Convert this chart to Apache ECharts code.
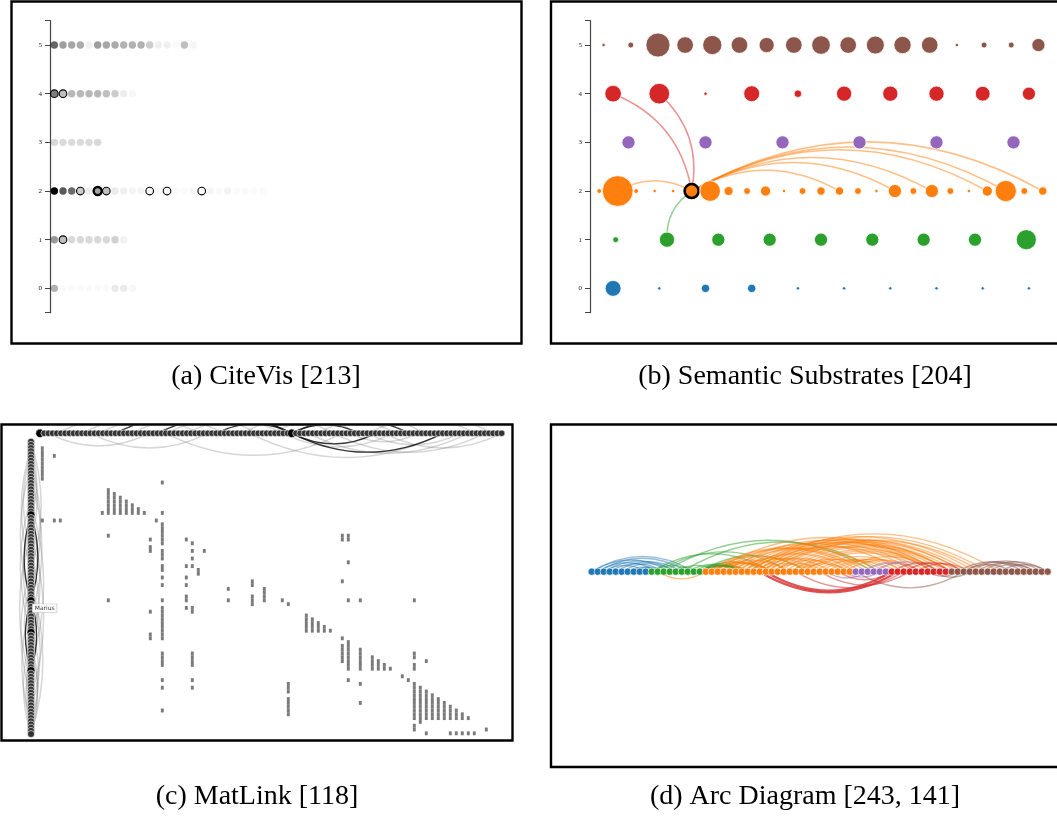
<!DOCTYPE html>
<html>
<head>
<meta charset="utf-8">
<script src="https://cdn.jsdelivr.net/npm/echarts@6/dist/echarts.min.js"></script>
<style>html,body{margin:0;padding:0;background:#fff}#c{width:1057px;height:820px}</style>
</head>
<body>
<div id="c"></div>
<script>
// ================= DATA =================
const yTicks = [0, 1, 2, 3, 4, 5];
const palette = ['#1f77b4', '#2ca02c', '#ff7f0e', '#9467bd', '#d62728', '#8c564b'];

// (a) CiteVis – citation intensity per paper, one array per row
const citeRow0 = [0.3, 0.02, 0.02, 0.02, 0.02, 0.02, 0.02, 0.08, 0.08, 0.03];
const citeRow1 = [0.4, 0.25, 0.15, 0.15, 0.15, 0.15, 0.15, 0.18, 0.05];
const citeRow2 = [1.0, 0.65, 0.58, 0.2, 0.07, 0.35, 0.25, 0.08, 0.06, 0.04, 0.04, 0.03, 0.03, 0.03, 0.02, 0.02, 0.03, 0.02, 0.04, 0.02, 0.05, 0.02, 0.02, 0.02, 0.02];
const citeRow3 = [0.15, 0.14, 0.14, 0.14, 0.14, 0.15];
const citeRow4 = [0.5, 0.25, 0.28, 0.28, 0.28, 0.28, 0.25, 0.2, 0.07, 0.03];
const citeRow5 = [0.6, 0.38, 0.35, 0.33, 0.05, 0.38, 0.35, 0.33, 0.3, 0.3, 0.3, 0.2, 0.06, 0.06, 0.02, 0.25, 0.04];
const citeRings = [[4, 0], [4, 1], [2, 3], [2, 6], [2, 11], [2, 13], [2, 17], [1, 1]];
const citeBoldRings = [[2, 5]];

// (b) Semantic Substrates – node weights per row
const subRow0 = [22, 1, 6, 6, 1, 1, 1, 1, 1, 1];
const subRow1 = [3, 20, 15, 15, 15, 15, 15, 15, 35];
const subRow2 = [2, 82, 2, 1, 1, 17, 37, 7, 4, 9, 1, 4, 6, 6, 4, 1, 15, 4, 15, 4, 1, 9, 39, 4, 6];
const subRow3 = [15, 15, 15, 15, 15, 15];
const subRow4 = [24, 37, 1, 22, 5, 20, 20, 20, 19, 15];
const subRow5 = [1, 3, 50, 24, 32, 24, 20, 24, 30, 24, 28, 26, 24, 1, 3, 3, 15];
const subFocus = [2, 5];
const subLinks = [[4, 0, 2, 5], [4, 1, 2, 5], [1, 1, 2, 5], [2, 1, 2, 5], [2, 5, 2, 13], [2, 5, 2, 16], [2, 5, 2, 18], [2, 5, 2, 21], [2, 5, 2, 22], [2, 5, 2, 24]];

// (c) MatLink – matrix cells as [column, firstRow, lastRow]
const matSize = 77;
const matCells = [
  [0,1,9],[2,3,3],[20,10,10],
  [10,18,18],[11,12,18],[12,13,18],[13,14,18],[14,15,18],[15,16,18],[16,17,18],[17,18,18],[20,18,18],
  [0,20,20],[2,20,20],[3,20,20],[19,20,20],
  [20,21,26],[11,24,24],[18,25,25],[18,27,28],[20,28,30],[20,32,33],[20,35,35],[20,37,37],
  [24,25,25],[25,26,26],[25,28,28],[27,28,28],[25,30,30],[24,32,32],[25,32,32],[26,33,34],[24,35,35],[24,37,37],
  [31,38,38],[35,36,37],
  [31,41,41],[35,40,42],[11,41,41],[20,41,41],[24,40,41],[24,43,43],[25,43,44],[18,44,44],[20,43,51],[18,50,51],
  [20,55,58],[25,55,58],[20,62,62],[25,62,62],[20,64,64],[25,64,64],[20,70,70],
  [50,24,25],[51,24,25],[51,31,31],[50,36,36],[37,38,41],
  [40,41,41],[41,42,42],[51,41,41],[53,41,41],[62,41,41],
  [44,45,49],[45,46,49],[46,47,49],[47,48,49],[48,49,49],
  [50,51,51],[50,53,57],[51,52,59],[53,54,59],[55,56,59],[56,57,59],[57,58,59],[58,59,59],
  [62,55,56],[62,58,59],[64,57,57],[60,61,61],[61,62,62],[51,62,62],[53,63,63],[53,68,68],
  [41,63,65],[41,67,71],
  [62,63,72],[63,64,72],[64,65,72],[65,66,72],[66,67,72],[67,68,72],[68,69,72],[69,70,72],[70,71,72],[71,72,72],
  [63,73,73],[62,74,75],[64,76,76],[68,76,76],[69,76,76],[70,76,76],[71,76,76],[72,76,76],[74,75,75]
];
const matTopCount = 111;
const matLeftCount = 93;
const matTopFocus = [0, 60];
const matLeftFocus = [23, 50, 60, 72];
const matLeftLabelNode = 50;
const matLabel = 'Marius';
// arcs: [from, to, strong(1)/faint(0)]
const matTopArcs = [
  [4,38,0],[10,52,0],[22,70,0],[48,92,0],[66,108,0],[78,104,0],[35,76,0],[55,85,0],[14,44,0],[30,58,0],
  [26,2,0],[40,12,0],[72,30,0],[102,64,0],[110,82,0],[96,50,0],[90,74,0],[84,58,0],[106,70,0],[100,78,0],
  [18,60,1],[28,60,1],[42,60,1],[60,88,1],[60,76,1],[80,60,1],[96,60,1]
];
const matLeftArcs = [
  [0,40,0],[5,30,0],[12,55,0],[30,80,0],[45,92,0],[58,88,0],[64,90,0],[20,70,0],[36,66,0],[2,24,0],[8,46,0],[26,62,0],[48,84,0],[66,92,0],
  [40,2,0],[60,18,0],[75,30,0],[88,52,0],[92,62,0],[70,44,0],[84,66,0],[50,8,0],[34,4,0],[56,26,0],[80,40,0],[90,70,0],
  [23,50,1],[50,60,1],[50,72,1],[72,50,1],[50,23,1]
];

// (d) Arc Diagram – group sizes (blue, green, orange, purple, red, brown) and links
const arcGroupSizes = [10, 9, 25, 6, 10, 17];
const arcLinks = [
  [0,17],[1,16],[0,13],[2,14],[3,12],[1,11],[4,15],[5,14],[2,9],[6,11],[7,12],
  [11,33],[10,30],[12,47],[15,48],[18,29],[17,26],[16,24],[14,21],[13,18],[10,17],[18,36],
  [19,11],
  [26,68],[25,64],[27,66],[28,63],[24,60],[30,65],[29,62],[31,61],[20,58],[22,57],[23,55],[21,52],[26,54],
  [32,60],[33,58],[34,57],[35,56],[36,53],[19,45],[20,46],[22,48],[24,44],[25,40],[19,36],[20,33],[21,30],
  [23,38],[27,42],[28,37],[30,43],[33,47],[35,49],[37,50],[38,52],[39,51],[40,54],[41,58],[42,55],[30,39],[34,43],
  [26,62],[27,60],[25,58],[28,59],[29,57],
  [48,42],[46,39],[45,55],[47,58],
  [52,34],[53,38],[50,41],
  [50,60],[52,62],[54,63],
  [62,73],[63,75],[64,74],[61,72],[65,76],[66,74],[62,70],[68,76],
  [62,44],[61,56],[63,57]
];
const arcStrongLinks = [[51,28],[50,29],[19,26],[20,30],[18,25]];

const captions = ['(a) CiteVis [213]', '(b) Semantic Substrates [204]', '(c) MatLink [118]', '(d) Arc Diagram [243, 141]'];

// ================= BUILD =================
const citeRows = [citeRow0, citeRow1, citeRow2, citeRow3, citeRow4, citeRow5];
const subRows = [subRow0, subRow1, subRow2, subRow3, subRow4, subRow5];
const series = [];

// (a)
const citeData = [];
citeRows.forEach((row, r) => row.forEach((v, i) => citeData.push([i, r, v])));
series.push({type: 'scatter', xAxisIndex: 0, yAxisIndex: 0, data: citeData, symbolSize: 7.4, clip: false, silent: true,
  itemStyle: {opacity: 1, color: p => 'rgba(0,0,0,' + p.value[2] + ')'}});
series.push({type: 'scatter', xAxisIndex: 0, yAxisIndex: 0, data: citeRings.map(([r, i]) => [i, r]), symbolSize: 7.6, clip: false, silent: true,
  itemStyle: {opacity: 1, color: 'rgba(0,0,0,0)', borderColor: '#000', borderWidth: 1.1}});
series.push({type: 'scatter', xAxisIndex: 0, yAxisIndex: 0, data: citeBoldRings.map(([r, i]) => [i, r]), symbolSize: 8, clip: false, silent: true,
  itemStyle: {opacity: 1, color: 'rgba(0,0,0,0)', borderColor: '#000', borderWidth: 2.4}});

// (b)
const subPos = (r, i) => [(i + 0.5) / subRows[r].length, r];
subRows.forEach((row, r) => {
  series.push({type: 'scatter', xAxisIndex: 1, yAxisIndex: 1, z: 3, clip: false, silent: true,
    data: row.map((w, i) => {
      const item = {value: subPos(r, i).concat([w])};
      if (r === subFocus[0] && i === subFocus[1]) item.itemStyle = {borderColor: '#000', borderWidth: 2.6};
      return item;
    }),
    symbolSize: v => 3.4 * Math.sqrt(v[2]),
    itemStyle: {opacity: 1, color: palette[r], borderColor: '#fff', borderWidth: 0.8}});
});
series.push({type: 'lines', coordinateSystem: 'cartesian2d', xAxisIndex: 1, yAxisIndex: 1, z: 2, silent: true, clip: false,
  data: subLinks.map(([r1, i1, r2, i2]) => ({coords: [subPos(r1, i1), subPos(r2, i2)], lineStyle: {color: palette[r1]}})),
  lineStyle: {width: 1.5, opacity: 0.5, curveness: 0.28}});

// (c)
const cellData = [];
matCells.forEach(([c, r0, r1]) => { for (let r = r0; r <= r1; r++) cellData.push([c, r]); });
series.push({type: 'scatter', xAxisIndex: 2, yAxisIndex: 2, data: cellData, symbol: 'rect', symbolSize: [2.9, 3.9], clip: false, silent: true,
  itemStyle: {opacity: 1, color: '#7a7a7a'}});
series.push({type: 'lines', coordinateSystem: 'cartesian2d', xAxisIndex: 3, yAxisIndex: 3, z: 1, silent: true, clip: true,
  data: matTopArcs.map(([a, b, s]) => ({coords: [[a, 0], [b, 0]], lineStyle: s ? {color: '#111', opacity: 0.85, width: 1.3} : {color: '#777', opacity: 0.3, width: 1.5}})),
  lineStyle: {curveness: 0.25}});
series.push({type: 'lines', coordinateSystem: 'cartesian2d', xAxisIndex: 4, yAxisIndex: 4, z: 1, silent: true, clip: true,
  data: matLeftArcs.map(([a, b, s]) => ({coords: [[0, a], [0, b]], lineStyle: s ? {color: '#111', opacity: 0.85, width: 1.3} : {color: '#777', opacity: 0.3, width: 1.5}})),
  lineStyle: {curveness: 0.16}});
const topNodes = [];
for (let i = 0; i < matTopCount; i++) topNodes.push(matTopFocus.includes(i) ? {value: [i, 0], symbolSize: 8.5, itemStyle: {color: '#000'}} : [i, 0]);
series.push({type: 'scatter', xAxisIndex: 3, yAxisIndex: 3, z: 3, data: topNodes, symbolSize: 6.6, clip: false, silent: true,
  itemStyle: {opacity: 1, color: '#333', borderColor: '#fff', borderWidth: 0.6}});
const leftNodes = [];
for (let i = 0; i < matLeftCount; i++) {
  if (matLeftFocus.includes(i)) {
    const it = {value: [0, i], symbolSize: 8, itemStyle: {color: '#000'}};
    if (i === matLeftLabelNode) it.label = {show: true, formatter: matLabel, position: [6, 8], fontSize: 6, color: '#333',
      backgroundColor: '#fff', borderColor: '#bbb', borderWidth: 0.6, padding: [1, 2], fontFamily: 'DejaVu Sans'};
    leftNodes.push(it);
  } else leftNodes.push([0, i]);
}
series.push({type: 'scatter', xAxisIndex: 4, yAxisIndex: 4, z: 3, data: leftNodes, symbolSize: 7, clip: false, silent: true,
  itemStyle: {opacity: 1, color: '#333', borderColor: '#fff', borderWidth: 0.6}});

// (d)
const arcGroupOf = [];
arcGroupSizes.forEach((n, g) => { for (let k = 0; k < n; k++) arcGroupOf.push(g); });
series.push({type: 'lines', coordinateSystem: 'cartesian2d', xAxisIndex: 5, yAxisIndex: 5, z: 1, silent: true, clip: false,
  data: arcLinks.map(([s, t]) => ({coords: [[s, 0], [t, 0]], lineStyle: {color: palette[arcGroupOf[s]]}})),
  lineStyle: {width: 1.4, opacity: 0.5, curveness: 0.3}});
series.push({type: 'lines', coordinateSystem: 'cartesian2d', xAxisIndex: 5, yAxisIndex: 5, z: 1, silent: true, clip: false,
  data: arcStrongLinks.map(([s, t]) => ({coords: [[s, 0], [t, 0]], lineStyle: {color: palette[arcGroupOf[s]]}})),
  lineStyle: {width: 2.2, opacity: 0.8, curveness: 0.3}});
arcGroupSizes.forEach((n, g) => {
  const d = [];
  arcGroupOf.forEach((gg, i) => { if (gg === g) d.push([i, 0]); });
  series.push({type: 'scatter', xAxisIndex: 5, yAxisIndex: 5, z: 3, data: d, symbolSize: 7.2, clip: false, silent: true,
    itemStyle: {opacity: 1, color: palette[g], borderColor: '#fff', borderWidth: 0.6}});
});

// axes
const subYAxis = gi => ({gridIndex: gi, type: 'value', min: -0.5, max: 5.5,
  axisLine: {show: true, onZero: false, lineStyle: {color: '#444', width: 1.2}},
  axisTick: {show: true, length: 5, customValues: [-0.5].concat(yTicks, [5.5]), lineStyle: {color: '#444', width: 1}},
  axisLabel: {show: true, customValues: yTicks, fontSize: 7, fontFamily: 'Liberation Serif', color: '#222', margin: 8},
  splitLine: {show: false}});
const hidden = (gi, min, max, inverse) => ({gridIndex: gi, type: 'value', min, max, inverse: !!inverse, show: false,
  axisLine: {show: false}, axisTick: {show: false}, axisLabel: {show: false}, splitLine: {show: false}});

const grids = [
  {left: 50, top: 20.7, width: 225.4, height: 292},
  {left: 590, top: 20.7, width: 462, height: 292},
  {left: 39.3, top: 442.6, width: 462, height: 292.6},
  {left: 40, top: 425.5, width: 461.6, height: 46.8},
  {left: 2.5, top: 441.7, width: 57, height: 292.3},
  {left: 591.7, top: 471.7, width: 456, height: 200}
].map(g => Object.assign({containLabel: false, outerBoundsMode: 'none'}, g));

const frames = [[11.5, 1.5, 510, 342], [551, 1.5, 508, 342], [1.5, 424.5, 511, 316], [551, 424.5, 508, 342.5]];
const capPos = [[266, 377], [805, 377], [257, 797], [805, 797]];
const graphic = frames.map(([x, y, w, h]) => ({type: 'rect', z: 100, silent: true, shape: {x, y, width: w, height: h},
  style: {fill: 'none', stroke: '#000', lineWidth: 2.4}}))
  .concat(captions.map((t, k) => ({type: 'text', z: 100, silent: true, x: capPos[k][0], y: capPos[k][1],
    style: {text: t, fill: '#000', fontSize: 28, fontFamily: 'Liberation Serif', align: 'center', verticalAlign: 'middle', textAlign: 'center', textVerticalAlign: 'middle'}})));

const chart = echarts.init(document.getElementById('c'), null, {renderer: 'canvas', width: 1057, height: 820});
chart.setOption({
  animation: false,
  backgroundColor: '#fff',
  grid: grids,
  xAxis: [hidden(0, -0.5, 25.5), hidden(1, 0, 1), hidden(2, -0.5, matSize - 0.5), hidden(3, 0, matTopCount - 1), hidden(4, -28.5, 28.5), hidden(5, 0, arcGroupSizes.reduce((a, b) => a + b, 0) - 1)],
  yAxis: [subYAxis(0), subYAxis(1), hidden(2, -0.5, matSize - 0.5, true), hidden(3, -5, 1), hidden(4, 0, matLeftCount - 1, true), hidden(5, -1, 1)],
  series,
  graphic
});
</script>
</body>
</html>
